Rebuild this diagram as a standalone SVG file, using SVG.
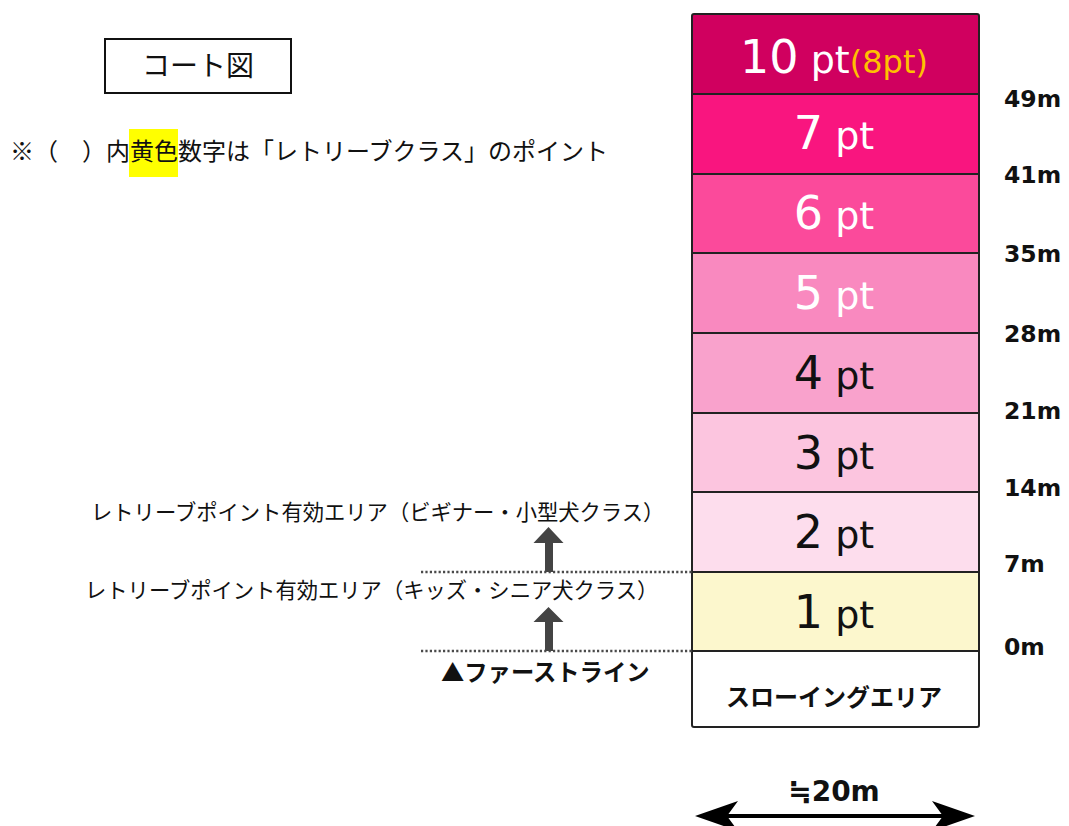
<svg xmlns="http://www.w3.org/2000/svg" width="1069" height="826" viewBox="0 0 1069 826">
<style>
.jp{font-family:"Noto Sans CJK JP","Noto Sans",sans-serif;fill:#111}
.pt{font-family:"DejaVu Sans","Noto Sans",sans-serif;text-anchor:middle}
.d{font-size:46px}
.u{font-size:38px}
.w{fill:#fff}
.k{fill:#111}
.m{font-family:"DejaVu Sans","Noto Sans",sans-serif;font-weight:bold;font-size:23.5px;fill:#111}
.sep{stroke:#222;stroke-width:2}
.dot{stroke:#4a4a4a;stroke-width:2.4;stroke-dasharray:2.2 2.2;fill:none}
.up{fill:#444}
</style>
<rect width="1069" height="826" fill="#fff"/>

<g id="title">
<rect x="105" y="39" width="186" height="54" fill="#fff" stroke="#111" stroke-width="2"/>
<text class="jp" x="198" y="76" font-size="28" text-anchor="middle">コート図</text>
</g>

<g id="note">
<rect x="129" y="129" width="49" height="48" fill="#ffff00"/>
<text class="jp" x="10" y="160" font-size="24">※（　）内黄色数字は「レトリーブクラス」のポイント</text>
</g>

<g id="court">
<rect id="r10" x="692" y="14" width="287" height="80" fill="#d0005f"/>
<rect id="r7" x="692" y="94" width="287" height="80" fill="#f9157f"/>
<rect id="r6" x="692" y="174" width="287" height="79" fill="#fb4a9b"/>
<rect id="r5" x="692" y="253" width="287" height="80" fill="#f989bf"/>
<rect id="r4" x="692" y="333" width="287" height="80" fill="#f9a2cc"/>
<rect id="r3" x="692" y="413" width="287" height="79" fill="#fcc5df"/>
<rect id="r2" x="692" y="492" width="287" height="80" fill="#fddded"/>
<rect id="r1" x="692" y="572" width="287" height="79" fill="#fcf7cd"/>
<rect id="rt" x="692" y="651" width="287" height="76" fill="#fff"/>
<line class="sep" x1="692" y1="94" x2="979" y2="94"/>
<line class="sep" x1="692" y1="174" x2="979" y2="174"/>
<line class="sep" x1="692" y1="253" x2="979" y2="253"/>
<line class="sep" x1="692" y1="333" x2="979" y2="333"/>
<line class="sep" x1="692" y1="413" x2="979" y2="413"/>
<line class="sep" x1="692" y1="492" x2="979" y2="492"/>
<line class="sep" x1="692" y1="572" x2="979" y2="572"/>
<line class="sep" x1="692" y1="651" x2="979" y2="651"/>
<rect x="692" y="14" width="287" height="713" rx="2" fill="none" stroke="#222" stroke-width="2"/>
</g>

<g id="labels-pt">
<text class="pt w" x="834" y="73"><tspan class="d">10</tspan><tspan class="u"> pt</tspan><tspan font-size="32" fill="#ffc000">(8pt)</tspan></text>
<text class="pt w" x="834" y="149"><tspan class="d">7</tspan><tspan class="u"> pt</tspan></text>
<text class="pt w" x="834" y="229"><tspan class="d">6</tspan><tspan class="u"> pt</tspan></text>
<text class="pt w" x="834" y="309"><tspan class="d">5</tspan><tspan class="u"> pt</tspan></text>
<text class="pt k" x="834" y="389"><tspan class="d">4</tspan><tspan class="u"> pt</tspan></text>
<text class="pt k" x="834" y="469"><tspan class="d">3</tspan><tspan class="u"> pt</tspan></text>
<text class="pt k" x="834" y="548"><tspan class="d">2</tspan><tspan class="u"> pt</tspan></text>
<text class="pt k" x="834" y="628"><tspan class="d">1</tspan><tspan class="u"> pt</tspan></text>
<text class="jp" x="834" y="706" font-size="24" font-weight="bold" text-anchor="middle">スローイングエリア</text>
</g>

<g id="distances">
<text class="m" x="1004" y="107">49m</text>
<text class="m" x="1004" y="183">41m</text>
<text class="m" x="1004" y="262">35m</text>
<text class="m" x="1004" y="342">28m</text>
<text class="m" x="1004" y="419">21m</text>
<text class="m" x="1004" y="496">14m</text>
<text class="m" x="1004" y="572">7m</text>
<text class="m" x="1004" y="655">0m</text>
</g>

<g id="zones">
<text class="jp" x="91" y="520" font-size="21.3">レトリーブポイント有効エリア（ビギナー・小型犬クラス）</text>
<text class="jp" x="85" y="598" font-size="21.3">レトリーブポイント有効エリア（キッズ・シニア犬クラス）</text>
<text class="jp" x="441" y="681" font-size="23.3" font-weight="bold">▲ファーストライン</text>
</g>

<g id="connectors">
<line class="dot" x1="421" y1="572" x2="692" y2="572"/>
<line class="dot" x1="421" y1="651" x2="692" y2="651"/>
<path class="up" d="M548.5,527 L563.5,543 L553,543 L553,572 L545,572 L545,543 L533.5,543 Z"/>
<path class="up" d="M548.5,607 L563.5,622 L553,622 L553,651 L545,651 L545,622 L533.5,622 Z"/>
<line x1="715" y1="816" x2="955" y2="816" stroke="#000" stroke-width="4"/>
<path d="M695,816 L738,801 L727,816 L738,831 Z" fill="#000"/>
<path d="M975,816 L932,801 L943,816 L932,831 Z" fill="#000"/>
</g>

<g id="width">
<text x="834" y="801" font-family="DejaVu Sans, Noto Sans CJK JP, sans-serif" font-weight="bold" font-size="28" text-anchor="middle" fill="#111">≒20m</text>
</g>
</svg>
